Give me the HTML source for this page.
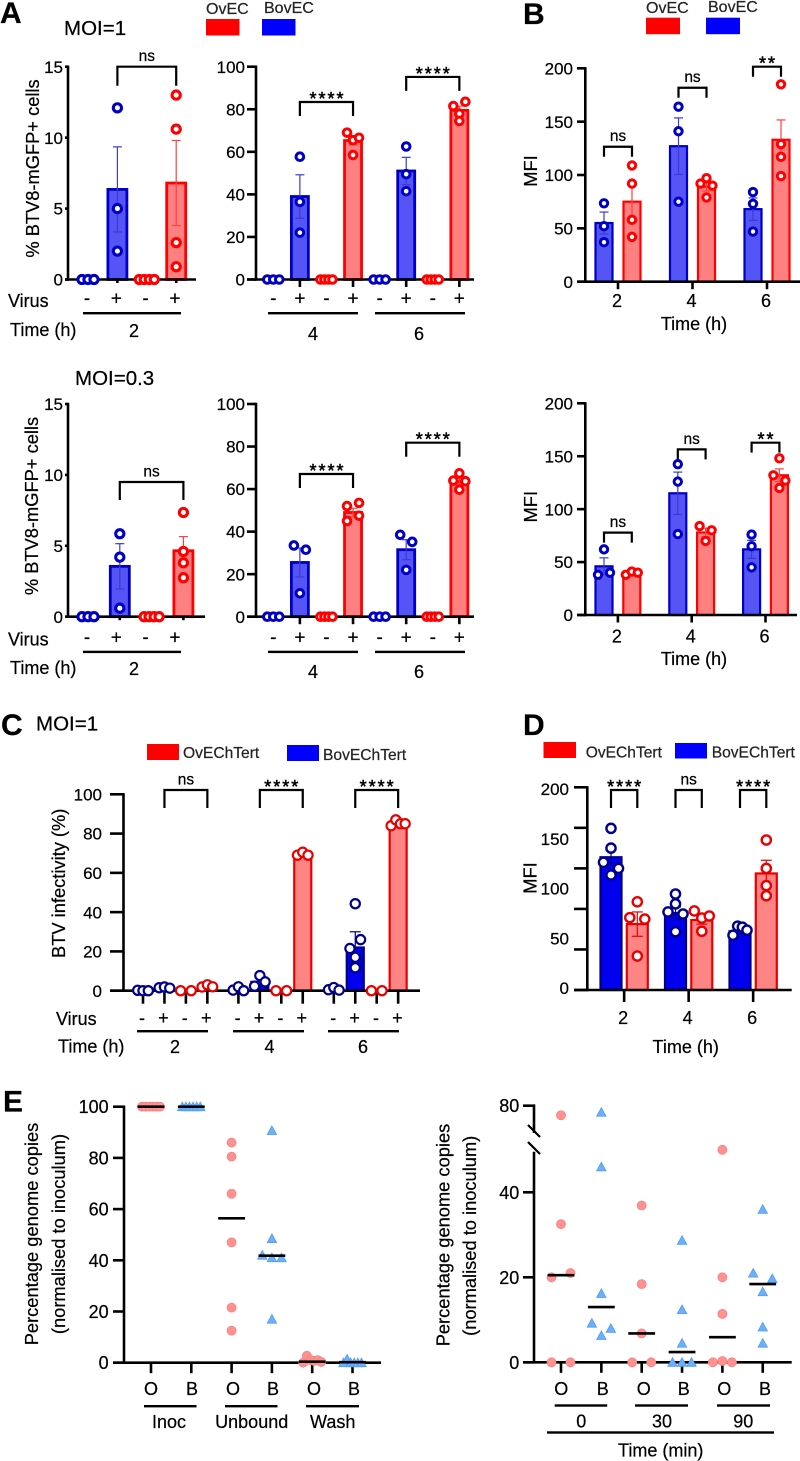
<!DOCTYPE html>
<html lang="en">
<head>
<meta charset="utf-8">
<title>BTV infectivity figure</title>
<style>
html,body{margin:0;padding:0;background:#fff;}
svg{display:block;}
text{font-family:"Liberation Sans",Arial,sans-serif;fill:#000;stroke:#000;stroke-width:0.22px;}
.letter{font-size:30px;font-weight:bold;fill:#000;}
.moi{font-size:20.5px;}
.leg{font-size:16px;fill:#222;stroke:#222;}
.lab{font-size:18px;}
.ytitle{font-size:18.3px;text-anchor:middle;}
.mid{text-anchor:middle;}
</style>
</head>
<body>
<svg id="figure" xmlns="http://www.w3.org/2000/svg" width="800" height="1461" viewBox="0 0 800 1461">
<rect x="0" y="0" width="800" height="1461" fill="#fff"/>

<!-- Panel A annotations -->
<text class="letter" x="0" y="23">A</text>
<text class="moi" x="64" y="35">MOI=1</text>
<text class="leg" x="206" y="14">OvEC</text>
<rect x="206" y="19" width="33.5" height="16.5" fill="#ff0000"/>
<text class="leg" x="264" y="13">BovEC</text>
<rect x="262" y="19" width="33.5" height="16.5" fill="#0000ff"/>
<text class="ytitle" transform="rotate(-90 39 168.5)" x="39" y="168.5">% BTV8-mGFP+ cells</text>
<text class="lab" x="8" y="307">Virus</text>
<text class="lab" x="10" y="336">Time (h)</text>
<rect x="83" y="312" width="98" height="2.4" fill="#000"/>
<text class="lab mid" x="134" y="337">2</text>
<rect x="268" y="312" width="90" height="2.4" fill="#000"/>
<rect x="375" y="312" width="90" height="2.4" fill="#000"/>
<text class="lab mid" x="313" y="340">4</text>
<text class="lab mid" x="419" y="340">6</text>

<text class="moi" x="75" y="385">MOI=0.3</text>
<text class="ytitle" transform="rotate(-90 38 506)" x="38" y="506">% BTV8-mGFP+ cells</text>
<text class="lab" x="8" y="645.5">Virus</text>
<text class="lab" x="10" y="674">Time (h)</text>
<rect x="83" y="650.7" width="98" height="2.4" fill="#000"/>
<text class="lab mid" x="134" y="675">2</text>
<rect x="268" y="650.7" width="90" height="2.4" fill="#000"/>
<rect x="375" y="650.7" width="90" height="2.4" fill="#000"/>
<text class="lab mid" x="313" y="678">4</text>
<text class="lab mid" x="419" y="678">6</text>

<!-- Panel B annotations -->
<text class="letter" x="523" y="24">B</text>
<text class="leg" x="646" y="13">OvEC</text>
<rect x="646" y="17.7" width="34" height="16.5" fill="#ff0000"/>
<text class="leg" x="708" y="12">BovEC</text>
<rect x="706" y="17.7" width="34" height="16.5" fill="#0000ff"/>
<text class="ytitle" transform="rotate(-90 537 171)" x="537" y="171">MFI</text>
<text class="lab mid" x="694" y="330">Time (h)</text>
<text class="ytitle" transform="rotate(-90 537 506.7)" x="537" y="506.7">MFI</text>
<text class="lab mid" x="694" y="665">Time (h)</text>

<!-- Panel C annotations -->
<text class="letter" x="1" y="735">C</text>
<text class="moi" x="36" y="730.5">MOI=1</text>
<rect x="147" y="744" width="32" height="16" fill="#ff0000"/>
<text class="leg" x="183" y="758" style="font-size:15.6px">OvEChTert</text>
<rect x="287" y="745" width="32" height="16" fill="#0000ff"/>
<text class="leg" x="323" y="760" style="font-size:15.6px">BovEChTert</text>
<text class="ytitle" transform="rotate(-90 65 883.3)" x="65" y="883.3">BTV infectivity (%)</text>
<text class="lab" x="56" y="1025">Virus</text>
<text class="lab" x="58" y="1052.7">Time (h)</text>
<rect x="137" y="1030" width="71" height="2.4" fill="#000"/>
<rect x="233" y="1030" width="71" height="2.4" fill="#000"/>
<rect x="328" y="1030" width="71" height="2.4" fill="#000"/>
<text class="lab mid" x="175" y="1053">2</text>
<text class="lab mid" x="269.5" y="1053">4</text>
<text class="lab mid" x="363" y="1053">6</text>

<!-- Panel D annotations -->
<text class="letter" x="523" y="735">D</text>
<rect x="543.5" y="742" width="32.5" height="16" fill="#ff0000"/>
<text class="leg" x="585.7" y="757.3" style="font-size:15.6px">OvEChTert</text>
<rect x="675" y="743" width="32" height="15.5" fill="#0000ff"/>
<text class="leg" x="711.7" y="757.3" style="font-size:15.6px">BovEChTert</text>
<text class="ytitle" transform="rotate(-90 536.7 878)" x="536.7" y="878">MFI</text>
<text class="lab mid" x="685.7" y="1053">Time (h)</text>

<!-- Panel E annotations -->
<text class="letter" x="3" y="1111.7">E</text>
<text class="ytitle" transform="rotate(-90 38 1234)" x="38" y="1234">Percentage genome copies</text>
<text class="ytitle" transform="rotate(-90 65 1234)" x="65" y="1234">(normalised to inoculum)</text>
<text class="lab mid" x="151" y="1395">O</text>
<text class="lab mid" x="192" y="1395">B</text>
<text class="lab mid" x="233" y="1395">O</text>
<text class="lab mid" x="273" y="1395">B</text>
<text class="lab mid" x="314" y="1395">O</text>
<text class="lab mid" x="354" y="1395">B</text>
<rect x="144" y="1405" width="52.5" height="2.4" fill="#000"/>
<rect x="225" y="1405" width="52.5" height="2.4" fill="#000"/>
<rect x="306" y="1405" width="53" height="2.4" fill="#000"/>
<text class="lab mid" x="169" y="1428">Inoc</text>
<text class="lab mid" x="251.7" y="1428">Unbound</text>
<text class="lab mid" x="332.7" y="1428">Wash</text>

<text class="ytitle" transform="rotate(-90 449.3 1235)" x="449.3" y="1235">Percentage genome copies</text>
<text class="ytitle" transform="rotate(-90 476 1235.8)" x="476" y="1235.8">(normalised to inoculum)</text>
<text class="lab mid" x="561.3" y="1395">O</text>
<text class="lab mid" x="602.7" y="1395">B</text>
<text class="lab mid" x="643.7" y="1395">O</text>
<text class="lab mid" x="683.7" y="1395">B</text>
<text class="lab mid" x="724.3" y="1395">O</text>
<text class="lab mid" x="765" y="1395">B</text>
<rect x="554.7" y="1404.3" width="52.5" height="2.4" fill="#000"/>
<rect x="635" y="1404.3" width="53" height="2.4" fill="#000"/>
<rect x="717" y="1404.3" width="53" height="2.4" fill="#000"/>
<text class="lab mid" x="581.3" y="1427.3">0</text>
<text class="lab mid" x="662" y="1427.3">30</text>
<text class="lab mid" x="743.3" y="1427.3">90</text>
<rect x="547" y="1431.3" width="227" height="2.4" fill="#000"/>
<text class="lab mid" x="660.7" y="1456.7">Time (min)</text>
</svg>

<script>
// ---------- Panel A, MOI=1, 2 h ----------
const a1Signs = ['-', '+', '-', '+'];
const a1Points = [[0, 0, 0], [12.1, 5, 2], [0, 0, 0, 0], [13, 10.6, 2.6, 0.9]];
const a1Means = [0, 6.35, 0, 6.8];
const a1Errors = [0, 3, 0, 3];
const a1YTicks = [0, 5, 10, 15];
const a1BracketLabels = ['ns'];
const a1BracketLevels = [15];

// ---------- Panel A, MOI=1, 4 and 6 h ----------
const a2Signs = ['-', '+', '-', '+', '-', '+', '-', '+'];
const a2Points = [[0, 0, 0], [57.7, 36.5, 22], [0, 0, 0, 0], [69, 65.5, 66.6, 58.5], [0, 0, 0], [62.5, 49.5, 41.5], [0, 0, 0, 0], [81.5, 83.5, 77.9, 74.5]];
const a2Means = [0, 39, 0, 65.3, 0, 51, 0, 79.5];
const a2Errors = [0, 10.2, 0, 2, 0, 6.4, 0, 2];
const a2YTicks = [0, 20, 40, 60, 80, 100];
const a2BracketLabels = ['****', '****'];
const a2BracketLevels = [83.4, 95.2];

// ---------- Panel A, MOI=0.3, 2 h ----------
const a3Signs = ['-', '+', '-', '+'];
const a3Points = [[0, 0, 0], [5.85, 4.2, 0.6], [0, 0, 0, 0], [7.35, 4.6, 3.8, 2.75]];
const a3Means = [0, 3.55, 0, 4.65];
const a3Errors = [0, 1.6, 0, 1];
const a3YTicks = [0, 5, 10, 15];
const a3BracketLabels = ['ns'];
const a3BracketLevels = [9.5];

// ---------- Panel A, MOI=0.3, 4 and 6 h ----------
const a4Signs = ['-', '+', '-', '+', '-', '+', '-', '+'];
const a4Points = [[0, 0, 0], [33.5, 31.5, 11], [0, 0, 0, 0], [52, 53.5, 45, 47.5], [0, 0, 0], [38.5, 35.2, 22], [0, 0, 0, 0], [67.4, 59.7, 64, 63.7]];
const a4Means = [0, 25.5, 0, 49, 0, 31.5, 0, 63.5];
const a4Errors = [0, 6.8, 0, 2, 0, 4.7, 0, 1.5];
const a4YTicks = [0, 20, 40, 60, 80, 100];
const a4BracketLabels = ['****', '****'];
const a4BracketLevels = [67.1, 81.8];

// ---------- Panel B, MOI=1 ----------
const b1Categories = ['2', '4', '6'];
const b1Points = [[73.5, 52, 37], [109, 92, 58, 42], [164, 141, 75], [92, 97, 90, 79], [84, 73, 47], [185, 129, 117, 99]];
const b1Means = [55, 75, 127, 89, 68, 133];
const b1Errors = [10.3, 17, 26.5, 4, 10.5, 18.6];
const b1YTicks = [0, 50, 100, 150, 200];
const b1BracketLabels = ['ns', 'ns', '**'];
const b1BracketLevels = [126.5, 181.8, 201.5];

// ---------- Panel B, MOI=0.3 ----------
const b2Categories = ['2', '4', '6'];
const b2Points = [[62, 38, 40], [38, 41, 40], [142.5, 126, 76.5], [84, 80, 70], [76, 65, 45], [148, 132, 127, 120]];
const b2Means = [46, 39.5, 115, 78, 62, 132];
const b2Errors = [8, 1, 20, 4, 8.5, 6];
const b2YTicks = [0, 50, 100, 150, 200];
const b2BracketLabels = ['ns', 'ns', '**'];
const b2BracketLevels = [77.8, 156.5, 162.8];

// ---------- Panel C ----------
const cSigns = ['-', '+', '-', '+', '-', '+', '-', '+', '-', '+', '-', '+'];
const cPoints = [[0.2, 0, 0], [1.5, 1.9, 1.3], [0, 0], [1.9, 3, 2], [0.3, 2, 0], [2.3, 7.7, 4.5], [0, 0], [69, 70.5, 69], [0.5, 1.6, 0.3], [44.3, 21.5, 17, 26, 11.7], [0, 0], [84, 87, 85, 85]];
const cMeans = [0.1, 1.4, 0, 2.2, 0.8, 4.5, 0, 69.5, 0.8, 22, 0, 85];
const cErrors = [0, 0, 0, 0, 0, 0, 0, 0, 0, 8, 0, 0];
const cYTicks = [0, 20, 40, 60, 80, 100];
const cBracketLabels = ['ns', '****', '****'];
const cBracketLevels = [102.2, 102.2, 102.2];

// ---------- Panel D ----------
const dCategories = ['2', '4', '6'];
const dPoints = [[159.5, 140, 126, 113.5, 120], [87, 71.4, 70, 33.5], [94.7, 85, 77, 75, 57.5], [78, 71, 73, 58], [54, 63, 62, 59], [148, 120, 103, 93]];
const dMeans = [131, 65, 76, 69, 58, 115];
const dErrors = [7, 12, 6, 4, 3, 13];
const dYTicks = [0, 40, 80, 120, 160, 200];
const dTickLabelValues = [0, 50, 100, 150, 200];
const dBracketLabels = ['****', 'ns', '****'];
const dBracketLevels = [197.3, 197.3, 197.3];

// ---------- Panel E, inoculum / unbound / wash ----------
const e1Points = [[100, 100, 100, 100, 100, 100], [100, 100, 100, 100, 100, 100], [86, 80.5, 66, 47, 21.5, 12.5], [90.7, 48.5, 42, 41, 41, 17], [0, 2.7, 1, 0.7, 1, 0.3], [0, 1.4, 0, 0, 0, 0]];
const e1Medians = [100, 100, 56.4, 41.8, 0.4, 0.2];
const e1YTicks = [0, 20, 40, 60, 80, 100];

// ---------- Panel E, time course ----------
const e2Points = [[76.5, 32.5, 20, 21, 0, 0], [77.6, 46, 16.2, 9.2, 8, 6.3], [36.9, 18.4, 6.8, 0, 0], [28.7, 12.4, 4.5, 0, 0, 0], [50, 20, 11.4, 0, 0.3, 0], [36, 21, 19.7, 16.6, 8.3, 4.5]];
const e2Medians = [20.5, 13, 6.8, 2.4, 5.9, 18.4];
const e2YTicks = [0, 20, 40, 80];

const NS = 'http://www.w3.org/2000/svg';
const svg = document.getElementById('figure');
const AXIS_W = 2.6;

function add(parent, tag, name, attrs, txt) {
  const el = document.createElementNS(NS, tag);
  
  
  for (const k in attrs) el.setAttribute(k, attrs[k]);
  if (txt !== undefined) el.textContent = txt;
  parent.appendChild(el);
  return el;
}
function line(parent, name, x1, y1, x2, y2, color, w) {
  return add(parent, 'line', name, {x1, y1, x2, y2, stroke: color, 'stroke-width': w});
}
// Spread points that would overlap vertically; order in the data sets left to right.
function swarm(vals, y, d, spread, thresh) {
  const order = vals.map((v, i) => i).sort((a, b) => vals[b] - vals[a]);
  const off = vals.map(() => 0);
  let cluster = [];
  function flush() {
    const c = cluster.slice().sort((a, b) => a - b);
    const m = c.length;
    if (m === 2) { off[c[0]] = -d; off[c[1]] = d; }
    else if (m === 3) { off[c[0]] = -d; off[c[1]] = 0; off[c[2]] = d; }
    else if (m > 3) c.forEach((id, k) => { off[id] = -spread / 2 + k * spread / (m - 1); });
    cluster = [];
  }
  order.forEach((id, k) => {
    if (k > 0 && Math.abs(y(vals[id]) - y(vals[order[k - 1]])) > thresh) flush();
    cluster.push(id);
  });
  flush();
  return off;
}
function yAxis(g, p, y) {
  line(g, 'y-axis', p.axisX, p.y0 + 1.2, p.axisX, p.yEnd !== undefined ? p.yEnd : y(p.vMax) - 1.2, '#000', AXIS_W);
  p.ticks.forEach(t => {
    line(g, 'y-tick-' + t, p.tickLeft, y(t), p.axisX, y(t), '#000', AXIS_W);
  });
  const vals = p.labelVals || p.ticks;
  const ly = p.labelY || y;
  vals.forEach(t => {
    add(g, 'text', 'y-tick-label-' + t, {x: p.labelX, y: ly(t) + p.labelFont * 0.36, 'text-anchor': 'end', style: 'font-size:' + p.labelFont + 'px'}, String(t));
  });
}
// Bars coloured by the isBlue rule: pairs (blue, red) or virus -/+ blocks (blue, blue, red, red).
function drawBars(p) {
  const g = add(svg, 'g', p.name, {});
  const ppu = (p.y0 - p.yTop) / p.vMax;
  const y = v => p.y0 - v * ppu;
  const xOf = i => p.x0 + i * p.step + Math.floor(i / p.groupSize) * p.gap;
  const isBlue = p.signs ? (i => Math.floor(i / 2) % 2 === 0) : (i => i % 2 === 0);

  p.means.forEach((m, i) => {
    const blue = isBlue(i);
    const x = xOf(i);
    if (m > 0) {
      add(g, 'rect', 'bar-' + i, {x: x - p.barW / 2, y: y(m), width: p.barW, height: p.y0 - y(m),
        fill: blue ? p.blueFill : p.redFill, stroke: blue ? p.blueStroke : p.redStroke, 'stroke-width': p.barSW});
    }
    if (p.errors[i] > 0) {
      const c = blue ? p.blueErr : p.redErr;
      const top = y(m + p.errors[i]), low = y(m - p.errors[i]);
      line(g, 'error-bar-' + i, x, top, x, low, c, 1.2);
      line(g, 'error-cap-top-' + i, x - p.cap / 2, top, x + p.cap / 2, top, c, 1.2);
      line(g, 'error-cap-low-' + i, x - p.cap / 2, low, x + p.cap / 2, low, c, 1.2);
    }
  });

  const xTicks = p.categories
    ? p.categories.map((c, k) => (xOf(k * 2) + xOf(k * 2 + 1)) / 2)
    : p.means.map((m, i) => xOf(i));
  xTicks.forEach((tx, k) => {
    const len = p.categories || p.signs[k] === '+' ? p.tickLen : p.tickLenMinus;
    line(g, 'x-tick-' + k, tx, p.y0, tx, p.y0 + len, '#000', AXIS_W);
  });
  line(g, 'x-axis', p.tickLeft, p.y0, p.axisRight, p.y0, '#000', AXIS_W);
  yAxis(g, p, y);

  p.points.forEach((vals, i) => {
    const blue = isBlue(i);
    const off = swarm(vals, y, p.d, p.spread, p.thresh);
    vals.forEach((v, j) => {
      add(g, 'circle', 'point-' + i + '-' + j, {cx: xOf(i) + off[j], cy: y(v), r: p.dotR, fill: '#fff',
        stroke: blue ? p.blueDot : p.redDot, 'stroke-width': p.dotSW});
    });
  });

  p.bracketLabels.forEach((lab, k) => {
    const a = p.bracketPairs[k * 2], b = p.bracketPairs[k * 2 + 1];
    const top = y(p.bracketLevels[k]);
    const x1 = xOf(a), x2 = xOf(b);
    add(g, 'path', 'significance-bracket-' + k, {d: 'M' + x1 + ' ' + (top + p.drop) + 'V' + top + 'H' + x2 + 'V' + (top + p.drop),
      fill: 'none', stroke: '#000', 'stroke-width': 2.2});
    const star = lab.indexOf('*') >= 0;
    add(g, 'text', 'significance-label-' + k, {x: (x1 + x2) / 2 + (star ? 1 : 0), y: star ? top + 3 : top - 5.5, 'text-anchor': 'middle',
      style: star ? 'font-size:18px;letter-spacing:2px;stroke-width:0.5px' : 'font-size:15.5px'}, lab);
  });

  if (p.signs) {
    p.signs.forEach((s, i) => {
      add(g, 'text', 'virus-sign-' + i, {x: p.signX0 + i * p.signStep + Math.floor(i / p.groupSize) * p.signGap, y: p.signY, 'text-anchor': 'middle', style: 'font-size:' + p.signFont + 'px'}, s);
    });
  }
  if (p.categories) {
    p.categories.forEach((c, k) => {
      add(g, 'text', 'x-tick-label-' + c, {x: xTicks[k] - 1, y: p.catY, 'text-anchor': 'middle', style: 'font-size:18px'}, c);
    });
  }
}
function drawScatter(p) {
  const g = add(svg, 'g', p.name, {});
  const y = p.scale;
  const xOf = i => p.x0 + i * p.step;
  p.points.forEach((v, i) => {
    line(g, 'x-tick-' + i, xOf(i), p.y0, xOf(i), p.y0 + 10.5, '#000', AXIS_W);
  });
  line(g, 'x-axis', p.tickLeft, p.y0, p.axisRight, p.y0, '#000', AXIS_W);
  yAxis(g, p, y);
  if (p.extraAxis) p.extraAxis(g);
  p.points.forEach((vals, i) => {
    const off = swarm(vals, y, p.d, p.spread, p.thresh);
    vals.forEach((v, j) => {
      const cx = xOf(i) + off[j], cy = y(v);
      if (i % 2 === 0) {
        add(g, 'circle', 'point-o-' + i + '-' + j, {cx, cy, r: 4.5, fill: '#ff9191', stroke: '#fb8080', 'stroke-width': 0.8});
      } else {
        add(g, 'polygon', 'point-b-' + i + '-' + j, {points: (cx - 4.7) + ',' + (cy + 4) + ' ' + (cx + 4.7) + ',' + (cy + 4) + ' ' + cx + ',' + (cy - 4.6),
          fill: '#6cb0fb', stroke: '#4f9cf2', 'stroke-width': 0.8});
      }
    });
  });
  p.medians.forEach((m, i) => {
    line(g, 'median-line-' + i, xOf(i) - 13.4, y(m), xOf(i) + 13.4, y(m), '#000', AXIS_W);
  });
}

const paleStyle = {
  blueFill: '#5555f6', blueStroke: '#0000c4', blueErr: '#3a3ad6', blueDot: '#0000c4',
  redFill: '#ff8080', redStroke: '#ff0000', redErr: '#ff4040', redDot: '#ff0000', cap: 9
};
const darkStyle = {
  blueFill: '#0000ee', blueStroke: '#00008a', blueErr: '#00008a', blueDot: '#00008a',
  redFill: '#ff8585', redStroke: '#e80000', redErr: '#e80000', redDot: '#e80000', cap: 11
};

drawBars(Object.assign({}, paleStyle, {
  name: 'chart-a-moi1-2h', points: a1Points, means: a1Means, errors: a1Errors, signs: a1Signs,
  ticks: a1YTicks, vMax: 15, y0: 279.5, yTop: 66.7, axisX: 68, tickLeft: 65, axisRight: 196, labelX: 63, labelFont: 17,
  x0: 88, step: 29.4, gap: 0, groupSize: 4, barW: 19, barSW: 2.8, dotR: 4.1, dotSW: 3.1, d: 6, spread: 15, thresh: 7.2,
  tickLen: 3.5, tickLenMinus: 2, signX0: 87, signStep: 29.3, signGap: 0, signY: 304.5, signFont: 19,
  bracketLabels: a1BracketLabels, bracketLevels: a1BracketLevels, bracketPairs: [1, 3], drop: 19
}));
drawBars(Object.assign({}, paleStyle, {
  name: 'chart-a-moi1-4-6h', points: a2Points, means: a2Means, errors: a2Errors, signs: a2Signs,
  ticks: a2YTicks, vMax: 100, y0: 279.5, yTop: 66.7, axisX: 256, tickLeft: 247, axisRight: 474, labelX: 245, labelFont: 17,
  x0: 273.3, step: 26.58, gap: 0, groupSize: 8, barW: 17, barSW: 2.8, dotR: 3.8, dotSW: 3, d: 6, spread: 12, thresh: 7.2,
  tickLen: 7.5, tickLenMinus: 3, signX0: 273.3, signStep: 26.58, signGap: 0, signY: 304.5, signFont: 19,
  bracketLabels: a2BracketLabels, bracketLevels: a2BracketLevels, bracketPairs: [1, 3, 5, 7], drop: 14
}));
drawBars(Object.assign({}, paleStyle, {
  name: 'chart-a-moi03-2h', points: a3Points, means: a3Means, errors: a3Errors, signs: a3Signs,
  ticks: a3YTicks, vMax: 15, y0: 616.7, yTop: 404, axisX: 68, tickLeft: 65, axisRight: 205, labelX: 63, labelFont: 17,
  x0: 88, step: 31.8, gap: 0, groupSize: 4, barW: 19, barSW: 2.8, dotR: 4.1, dotSW: 3.1, d: 6, spread: 15, thresh: 7.2,
  tickLen: 3.5, tickLenMinus: 2, signX0: 87, signStep: 29.3, signGap: 0, signY: 643.5, signFont: 19,
  bracketLabels: a3BracketLabels, bracketLevels: a3BracketLevels, bracketPairs: [1, 3], drop: 18
}));
drawBars(Object.assign({}, paleStyle, {
  name: 'chart-a-moi03-4-6h', points: a4Points, means: a4Means, errors: a4Errors, signs: a4Signs,
  ticks: a4YTicks, vMax: 100, y0: 616.7, yTop: 404, axisX: 256, tickLeft: 247, axisRight: 474, labelX: 245, labelFont: 17,
  x0: 273.3, step: 26.58, gap: 0, groupSize: 8, barW: 17, barSW: 2.8, dotR: 3.8, dotSW: 3, d: 6, spread: 12, thresh: 7.2,
  tickLen: 7.5, tickLenMinus: 3, signX0: 273.3, signStep: 26.58, signGap: 0, signY: 643.5, signFont: 19,
  bracketLabels: a4BracketLabels, bracketLevels: a4BracketLevels, bracketPairs: [1, 3, 5, 7], drop: 14
}));

drawBars(Object.assign({}, paleStyle, {
  name: 'chart-b-moi1', points: b1Points, means: b1Means, errors: b1Errors, categories: b1Categories,
  ticks: b1YTicks, vMax: 200, y0: 281.7, yTop: 68.3, axisX: 585.3, tickLeft: 577, axisRight: 800, labelX: 573, labelFont: 17,
  x0: 604, step: 28, gap: 18.5, groupSize: 2, barW: 17, barSW: 2.2, dotR: 3.7, dotSW: 3, d: 6, spread: 12, thresh: 7.2,
  tickLen: 7.5, catY: 307,
  bracketLabels: b1BracketLabels, bracketLevels: b1BracketLevels, bracketPairs: [0, 1, 2, 3, 4, 5], drop: 10
}));
drawBars(Object.assign({}, paleStyle, {
  name: 'chart-b-moi03', points: b2Points, means: b2Means, errors: b2Errors, categories: b2Categories,
  ticks: b2YTicks, vMax: 200, y0: 615, yTop: 403.3, axisX: 585.3, tickLeft: 577, axisRight: 797, labelX: 573, labelFont: 17,
  x0: 604, step: 27.8, gap: 18.2, groupSize: 2, barW: 17, barSW: 2.2, dotR: 3.7, dotSW: 3, d: 6, spread: 12, thresh: 7.2,
  tickLen: 7.5, catY: 642.7,
  bracketLabels: b2BracketLabels, bracketLevels: b2BracketLevels, bracketPairs: [0, 1, 2, 3, 4, 5], drop: 10
}));

drawBars(Object.assign({}, darkStyle, {
  name: 'chart-c-infectivity', points: cPoints, means: cMeans, errors: cErrors, signs: cSigns,
  ticks: cYTicks, vMax: 100, y0: 990.7, yTop: 794.3, axisX: 123.5, tickLeft: 110, axisRight: 420, labelX: 102, labelFont: 17,
  x0: 143, step: 21.45, gap: 9.6, groupSize: 4, barW: 17, barSW: 2.2, dotR: 4.6, dotSW: 2.2, d: 5.3, spread: 14, thresh: 10,
  tickLen: 13, tickLenMinus: 13, signX0: 142, signStep: 21.4, signGap: 10, signY: 1024, signFont: 18,
  bracketLabels: cBracketLabels, bracketLevels: cBracketLevels, bracketPairs: [1, 3, 5, 7, 9, 11], drop: 18
}));

drawBars(Object.assign({}, darkStyle, {
  name: 'chart-d-mfi', points: dPoints, means: dMeans, errors: dErrors, categories: dCategories,
  ticks: dYTicks, labelVals: dTickLabelValues, labelY: v => 988 - v * 0.995,
  vMax: 200, y0: 990, yTop: 787.3, axisX: 587.3, tickLeft: 574, axisRight: 791.7, labelX: 569, labelFont: 17,
  x0: 611, step: 26.3, gap: 11.9, groupSize: 2, barW: 21, barSW: 2.2, dotR: 4.6, dotSW: 2.4, d: 7.5, spread: 14, thresh: 7.2,
  tickLen: 12, catY: 1024,
  bracketLabels: dBracketLabels, bracketLevels: dBracketLevels, bracketPairs: [0, 1, 2, 3, 4, 5], drop: 18
}));

drawScatter({
  name: 'chart-e-fractions', points: e1Points, medians: e1Medians,
  ticks: e1YTicks, vMax: 100, y0: 1362.7, axisX: 124, tickLeft: 113, axisRight: 381, labelX: 108.7, labelFont: 18,
  scale: v => 1362.7 - v * 2.56,
  x0: 151, step: 40.3, d: 9.6, spread: 18, thresh: 6
});
drawScatter({
  name: 'chart-e-time-course', points: e2Points, medians: e2Medians,
  ticks: e2YTicks, vMax: 80, y0: 1362.3, yEnd: 1151.7, axisX: 534, tickLeft: 523, axisRight: 791.7, labelX: 519.3, labelFont: 18,
  scale: v => v <= 50 ? 1362.3 - v * 4.25 : 1105.7 + (80 - v) * 2.73,
  x0: 561, step: 40.35, d: 9.5, spread: 18, thresh: 6,
  extraAxis: g => {
    line(g, 'y-axis-upper-segment', 534, 1133, 534, 1104.4, '#000', AXIS_W);
    line(g, 'y-axis-break-upper', 528, 1125, 540, 1137, '#000', 2.2);
    line(g, 'y-axis-break-lower', 528, 1142, 540, 1154, '#000', 2.2);
  }
});
</script>
</body>
</html>
